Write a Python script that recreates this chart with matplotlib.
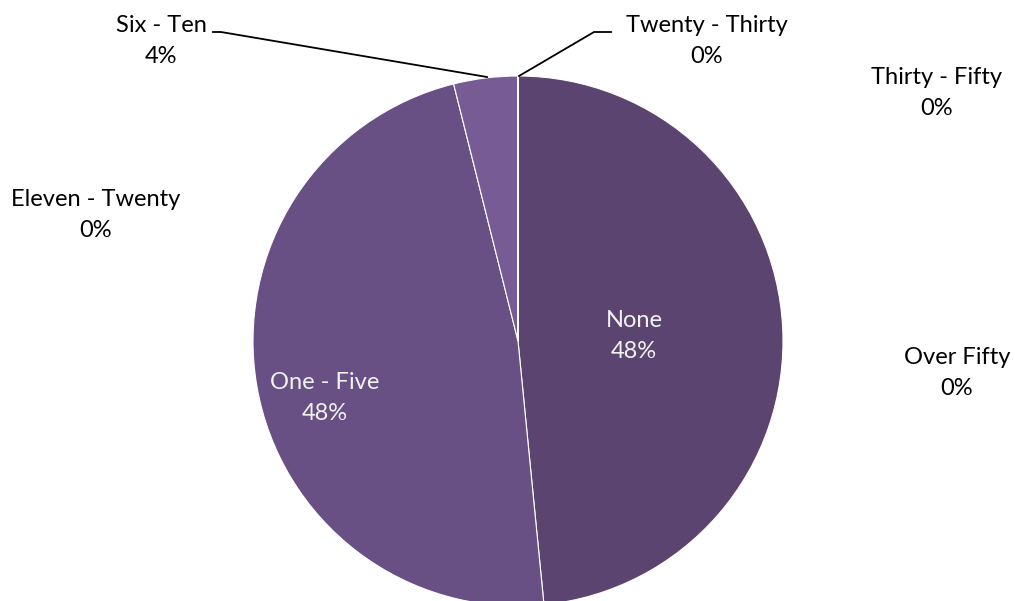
import matplotlib
matplotlib.use("Agg")
import matplotlib.pyplot as plt

categories = ["None", "One - Five", "Six - Ten", "Eleven - Twenty",
              "Twenty - Thirty", "Thirty - Fifty", "Over Fifty"]
counts = [62, 61, 5, 0, 0, 0, 0]
colors = ["#5c4470", "#684f84", "#765b94", "#8467a5", "#9176b2", "#a088bd", "#b09ac8"]

# label centres in pixels (x, y from top) and text colour
label_pos = [(634, 336), (325, 398), (161, 41), (96, 215), (707, 41), (937, 93), (957, 373)]
label_col = ["#f2f2f2", "#f2f2f2", "black", "black", "black", "black", "black"]

W, H = 1015, 601
fig = plt.figure(figsize=(W / 100, H / 100), dpi=100)
ax = fig.add_axes([0, 0, 1, 1])

cx, cy, r = 518, H - 341, 265
ax.pie(counts, colors=colors, startangle=90, counterclock=False,
       center=(cx, cy), radius=r, frame=True,
       wedgeprops=dict(edgecolor="white", linewidth=0.8))
ax.set_xlim(0, W)
ax.set_ylim(0, H)
ax.set_aspect("equal")
ax.axis("off")

total = sum(counts)
for name, v, (x, y), c in zip(categories, counts, label_pos, label_col):
    pct = round(100 * v / total)
    ax.text(x, H - y, "{}\n{}%".format(name, pct), ha="center", va="center",
            color=c, fontsize=17, family="Lato", linespacing=1.6)

# leader lines
ax.plot([213, 221, 487], [H - 32, H - 32, H - 77], color="black", lw=1.3)
ax.plot([519, 594, 611], [H - 76, H - 32, H - 32], color="black", lw=1.3)

fig.savefig("out.png", dpi=100)
